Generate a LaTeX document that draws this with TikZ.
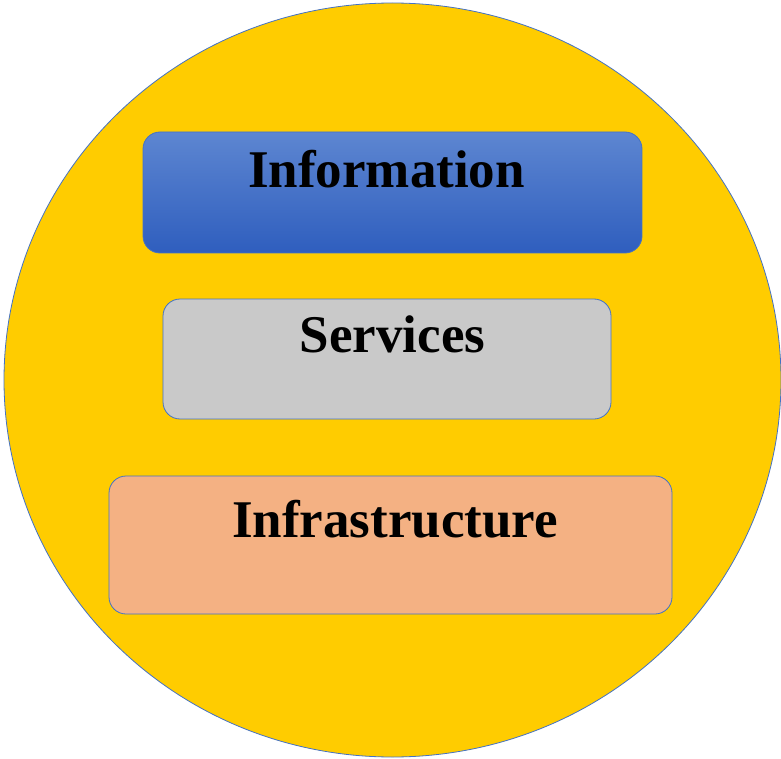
\documentclass[tikz,border=0pt]{standalone}
\usepackage{fontspec}
\usetikzlibrary{shapes.geometric}
\setmainfont{Liberation Serif}
\definecolor{circfill}{RGB}{255,204,0}
\definecolor{edgeblue}{RGB}{68,114,196}
\definecolor{infotop}{RGB}{93,134,209}
\definecolor{infobot}{RGB}{47,94,190}
\definecolor{servfill}{RGB}{201,201,201}
\definecolor{infrafill}{RGB}{244,177,131}
\begin{document}
\begin{tikzpicture}[x=1pt,y=-1pt,
  box/.style={draw=edgeblue, line width=0.8pt, rounded corners=17pt, inner sep=0pt},
  label/.style={anchor=base, inner sep=0pt, font=\fontsize{53}{60}\selectfont\bfseries}]
\useasboundingbox (0,0) rectangle (781,759);
\node[draw=edgeblue, line width=0.8pt, fill=circfill, ellipse, minimum width=777pt, minimum height=754pt, inner sep=0pt] (circ) at (392.5,380) {};
\node[box, top color=infotop, bottom color=infobot, minimum width=499pt, minimum height=121pt] (info) at (392.5,192.5) {};
\node[box, fill=servfill, minimum width=448pt, minimum height=120pt] (serv) at (387,359) {};
\node[box, fill=infrafill, minimum width=563pt, minimum height=138pt] (infra) at (390.5,545) {};
\node[label] (infot) at (386.5,188) {Information};
\node[label] (servt) at (392.5,352) {Services};
\node[label] (infrat) at (395,537) {Infrastructure};
\end{tikzpicture}
\end{document}
